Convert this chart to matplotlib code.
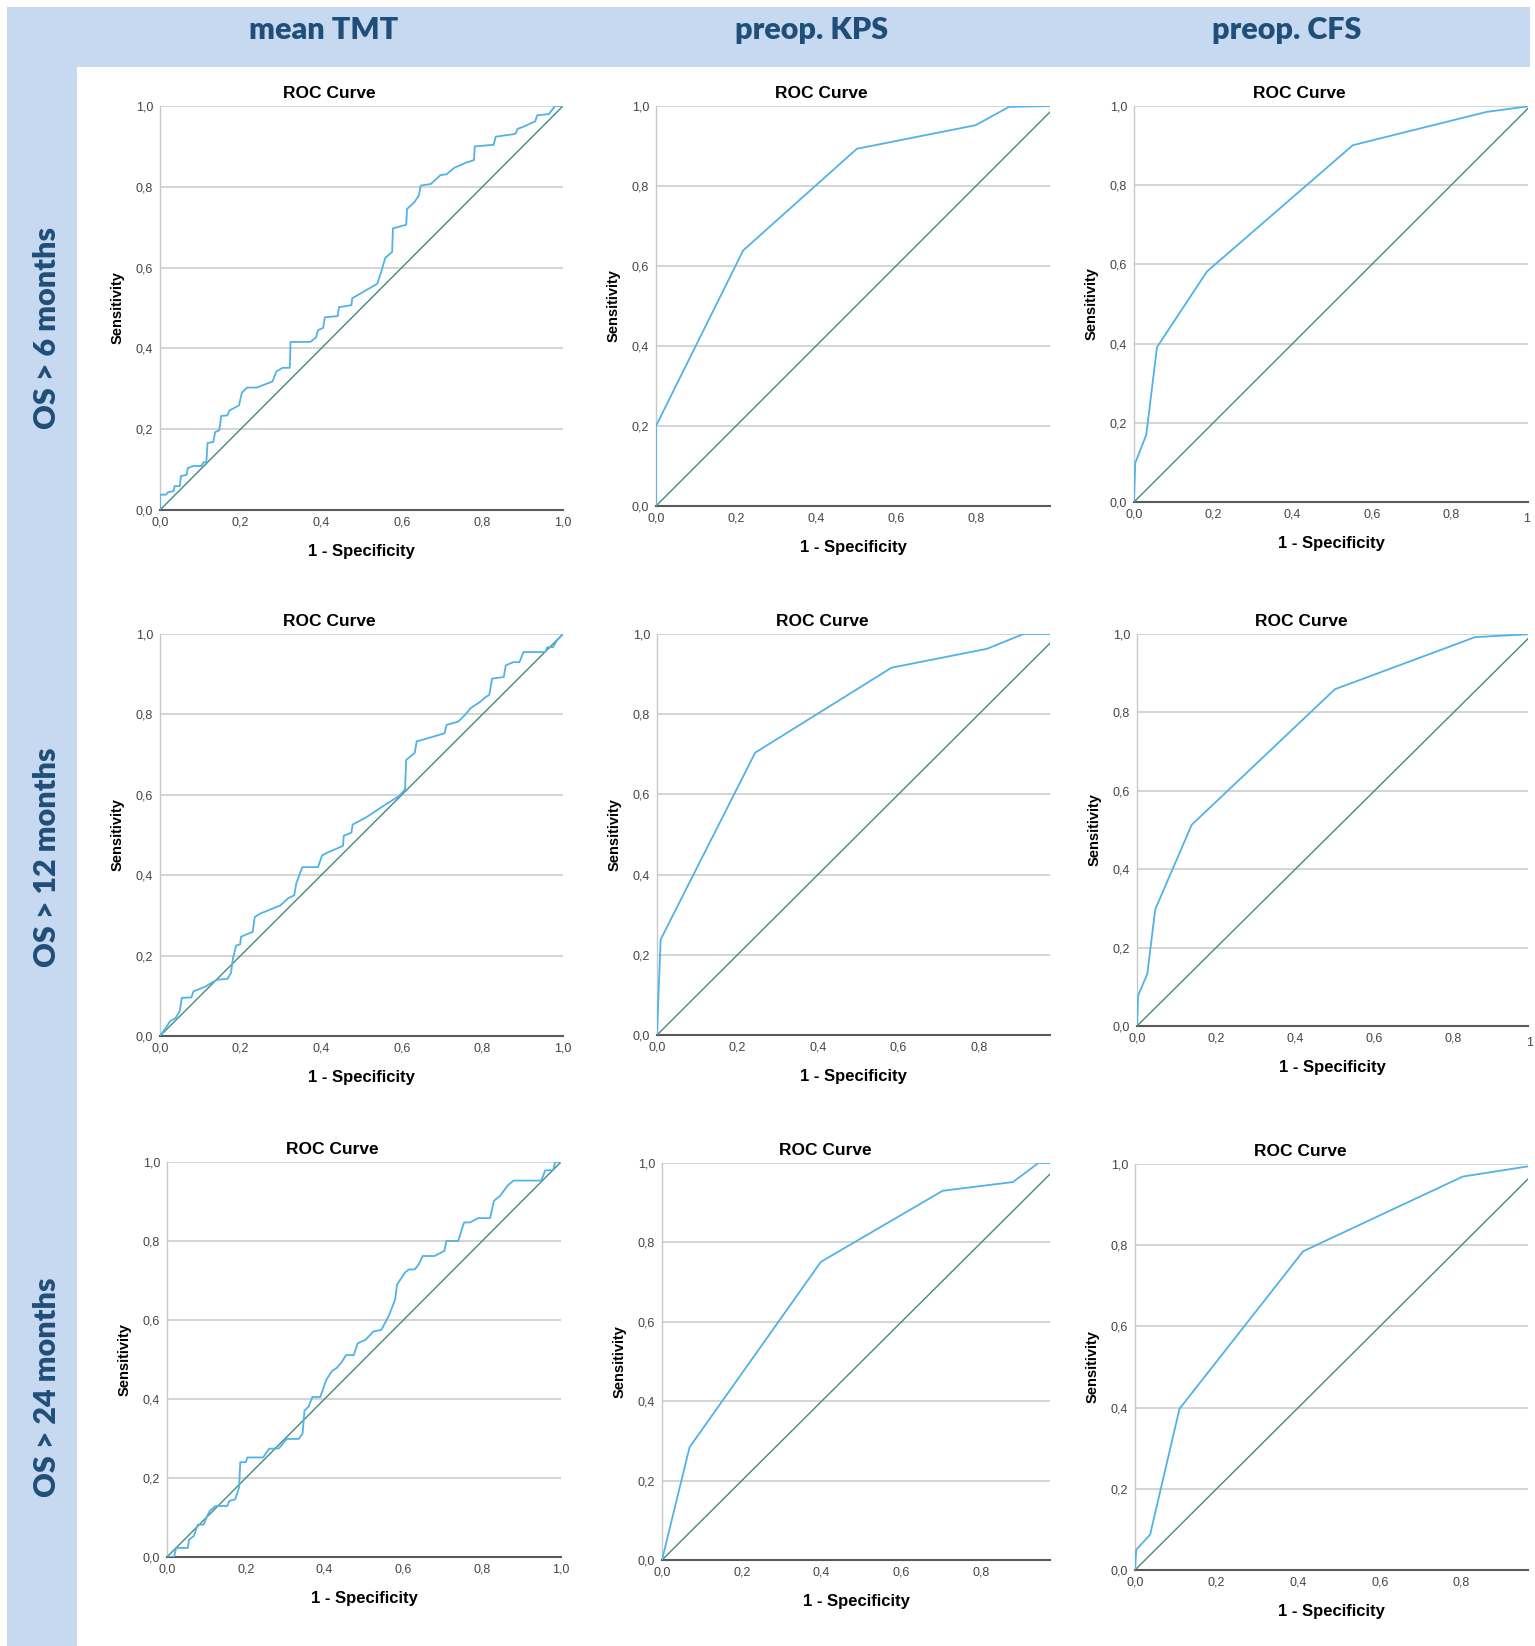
import matplotlib
matplotlib.use("Agg")
import matplotlib.pyplot as plt
import matplotlib.font_manager as fm
from matplotlib.patches import Rectangle

# column / row headers
col_titles = ["mean TMT", "preop. KPS", "preop. CFS"]
row_titles = ["OS > 6 months", "OS > 12 months", "OS > 24 months"]

# ROC curves (1 - specificity, sensitivity)
tmt_os6_x = [0, 0, 0.015, 0.020, 0.034, 0.036, 0.049, 0.052, 0.066, 0.069, 0.083, 0.103, 0.108, 0.115,
             0.118, 0.132, 0.137, 0.147, 0.152, 0.167, 0.172, 0.196, 0.203, 0.216, 0.240, 0.279, 0.289,
             0.304, 0.322, 0.324, 0.373, 0.387, 0.392, 0.405, 0.409, 0.441, 0.444, 0.475, 0.477, 0.539,
             0.549, 0.559, 0.576, 0.578, 0.611, 0.613, 0.632, 0.642, 0.647, 0.672, 0.696, 0.711, 0.730,
             0.760, 0.779, 0.781, 0.828, 0.833, 0.882, 0.887, 0.907, 0.931, 0.936, 0.965, 0.971, 0.975,
             0.980, 1.0]
tmt_os6_y = [0, 0.038, 0.038, 0.044, 0.047, 0.059, 0.059, 0.084, 0.087, 0.104, 0.109, 0.109, 0.118, 0.118,
             0.166, 0.168, 0.193, 0.197, 0.233, 0.234, 0.246, 0.259, 0.290, 0.303, 0.303, 0.318, 0.343,
             0.352, 0.352, 0.416, 0.416, 0.427, 0.445, 0.451, 0.477, 0.480, 0.502, 0.507, 0.524, 0.560,
             0.590, 0.624, 0.639, 0.697, 0.706, 0.745, 0.763, 0.778, 0.803, 0.807, 0.829, 0.831, 0.847,
             0.860, 0.866, 0.900, 0.904, 0.924, 0.931, 0.943, 0.951, 0.962, 0.977, 0.980, 0.988, 0.993,
             1.0, 1.0]

tmt_os12_x = [0, 0.015, 0.025, 0.039, 0.049, 0.054, 0.078, 0.083, 0.103, 0.113, 0.127, 0.142, 0.167,
              0.176, 0.181, 0.189, 0.199, 0.201, 0.230, 0.235, 0.250, 0.299, 0.317, 0.333, 0.338, 0.353,
              0.392, 0.402, 0.417, 0.436, 0.454, 0.456, 0.475, 0.478, 0.510, 0.554, 0.593, 0.608, 0.611,
              0.632, 0.637, 0.652, 0.686, 0.706, 0.711, 0.740, 0.760, 0.770, 0.794, 0.809, 0.817, 0.824,
              0.853, 0.858, 0.877, 0.892, 0.902, 0.956, 0.961, 0.975, 0.985, 1.0]
tmt_os12_y = [0, 0.021, 0.037, 0.045, 0.062, 0.095, 0.096, 0.111, 0.119, 0.123, 0.132, 0.140, 0.142,
              0.156, 0.193, 0.225, 0.228, 0.247, 0.259, 0.296, 0.305, 0.325, 0.342, 0.350, 0.379, 0.420,
              0.420, 0.449, 0.457, 0.465, 0.473, 0.498, 0.506, 0.526, 0.543, 0.572, 0.597, 0.613, 0.687,
              0.704, 0.733, 0.737, 0.747, 0.753, 0.774, 0.782, 0.802, 0.815, 0.831, 0.844, 0.848, 0.889,
              0.893, 0.922, 0.930, 0.930, 0.955, 0.955, 0.967, 0.967, 0.984, 1.0]

tmt_os24_x = [0, 0.018, 0.023, 0.053, 0.056, 0.068, 0.078, 0.093, 0.098, 0.108, 0.123, 0.153, 0.158,
              0.173, 0.183, 0.186, 0.200, 0.204, 0.244, 0.259, 0.284, 0.304, 0.334, 0.344, 0.349, 0.359,
              0.369, 0.389, 0.404, 0.419, 0.431, 0.444, 0.454, 0.474, 0.484, 0.504, 0.524, 0.544, 0.564,
              0.579, 0.584, 0.604, 0.614, 0.629, 0.639, 0.649, 0.679, 0.704, 0.709, 0.739, 0.754, 0.769,
              0.790, 0.820, 0.830, 0.846, 0.865, 0.880, 0.950, 0.960, 0.980, 0.985, 1.0]
tmt_os24_y = [0, 0, 0.023, 0.023, 0.044, 0.053, 0.082, 0.082, 0.095, 0.116, 0.129, 0.129, 0.142,
              0.146, 0.176, 0.240, 0.240, 0.252, 0.252, 0.274, 0.275, 0.299, 0.299, 0.312, 0.371, 0.380,
              0.405, 0.405, 0.448, 0.471, 0.479, 0.494, 0.511, 0.511, 0.541, 0.550, 0.571, 0.575, 0.613,
              0.652, 0.690, 0.720, 0.728, 0.728, 0.741, 0.762, 0.762, 0.775, 0.800, 0.800, 0.847, 0.847,
              0.858, 0.858, 0.902, 0.915, 0.941, 0.953, 0.953, 0.979, 0.979, 1.0, 1.0]

kps_os6_x = [0, 0, 0.218, 0.502, 0.799, 0.883, 1.0]
kps_os6_y = [0, 0.200, 0.639, 0.893, 0.952, 0.998, 1.0]
kps_os12_x = [0, 0.009, 0.244, 0.583, 0.820, 0.911, 1.0]
kps_os12_y = [0, 0.238, 0.704, 0.916, 0.963, 1.0, 1.0]
kps_os24_x = [0, 0.069, 0.398, 0.703, 0.879, 0.943, 1.0]
kps_os24_y = [0, 0.284, 0.751, 0.930, 0.952, 1.0, 1.0]

cfs_os6_x = [0, 0.003, 0.031, 0.058, 0.184, 0.552, 0.889, 1.0]
cfs_os6_y = [0, 0.098, 0.170, 0.391, 0.582, 0.901, 0.985, 1.0]
cfs_os12_x = [0, 0.003, 0.026, 0.046, 0.138, 0.500, 0.854, 1.0]
cfs_os12_y = [0, 0.078, 0.133, 0.297, 0.513, 0.859, 0.992, 1.0]
cfs_os24_x = [0, 0.003, 0.037, 0.109, 0.412, 0.803, 1.0]
cfs_os24_y = [0, 0.050, 0.087, 0.397, 0.785, 0.969, 1.0]

curves = [
    [(tmt_os6_x, tmt_os6_y), (kps_os6_x, kps_os6_y), (cfs_os6_x, cfs_os6_y)],
    [(tmt_os12_x, tmt_os12_y), (kps_os12_x, kps_os12_y), (cfs_os12_x, cfs_os12_y)],
    [(tmt_os24_x, tmt_os24_y), (kps_os24_x, kps_os24_y), (cfs_os24_x, cfs_os24_y)],
]

# the screenshots of the right two columns are cropped on the right
x_right = [[1.0, 0.985, 0.994], [1.0, 0.977, 0.988], [1.0, 0.972, 0.963]]

# axes boxes in pixels: left, top, right, bottom
boxes = [
    [(160, 106, 563, 510), (656, 106, 1050, 506), (1134, 106, 1528, 502)],
    [(160, 634, 563, 1036), (657, 634, 1050, 1035), (1137, 634, 1528, 1026)],
    [(167, 1162, 561, 1557), (662, 1163, 1050, 1560), (1135, 1164, 1528, 1570)],
]

W, H = 1535, 1646
BAND = "#c6d9f0"
NAVY = "#1f4e79"
ROC_BLUE = "#52b2e8"
DIAG = "#438b7c"

names = {f.name for f in fm.fontManager.ttflist}
arial = "Liberation Sans"
narrow = "Liberation Sans Narrow" if "Liberation Sans Narrow" in names else "Liberation Sans"
head_font = "Lato" if "Lato" in names else "DejaVu Sans"


def fmt(v):
    return ("%.1f" % v).replace(".", ",")


def main():
    fig = plt.figure(figsize=(W / 100, H / 100), dpi=100)
    fig.patch.set_facecolor("white")

    # light blue header bands
    fig.add_artist(Rectangle((7 / W, 1 - 67 / H), (1530 - 7) / W, 60 / H,
                             transform=fig.transFigure, color=BAND, lw=0, zorder=0))
    fig.add_artist(Rectangle((7 / W, 0), 70 / W, 1 - 7 / H,
                             transform=fig.transFigure, color=BAND, lw=0, zorder=0))

    for cx, t in zip([324, 812, 1287], col_titles):
        fig.text(cx / W, 1 - 30 / H, t, ha="center", va="center", fontsize=22,
                 fontweight="heavy", color=NAVY, family=head_font)
    for cy, t in zip([328, 857, 1387], row_titles):
        fig.text(47 / W, 1 - cy / H, t, ha="center", va="center", rotation=90,
                 fontsize=22, fontweight="heavy", color=NAVY, family=head_font)

    for r in range(3):
        for c in range(3):
            l, t, rr, b = boxes[r][c]
            ax = fig.add_axes([l / W, 1 - b / H, (rr - l) / W, (b - t) / H])
            fam = arial if c == 0 else narrow
            xr = x_right[r][c]
            xs, ys = curves[r][c]

            ax.plot([0, 1], [0, 1], color=DIAG, lw=1.0, zorder=3)
            ax.plot(xs, ys, color=ROC_BLUE, lw=1.3, zorder=4)

            ax.set_xlim(0, xr)
            ax.set_ylim(0, 1)
            ticks = [0, 0.2, 0.4, 0.6, 0.8, 1.0]
            xt = [v for v in ticks if v <= xr + 1e-9]
            ax.set_xticks(xt)
            ax.set_xticklabels([fmt(v) for v in xt])
            ax.set_yticks(ticks)
            ax.set_yticklabels([fmt(v) for v in ticks])
            for lab in ax.get_xticklabels() + ax.get_yticklabels():
                lab.set_family(fam)
                lab.set_fontsize(9)
                lab.set_color("#444444")
            ax.tick_params(length=0)
            ax.tick_params(axis="x", pad=5)
            ax.tick_params(axis="y", pad=5)

            ax.grid(axis="y", color="#d4d4d4", lw=1.4, zorder=1)
            ax.grid(axis="x", visible=False)
            ax.set_axisbelow(True)
            for s in ["top", "right"]:
                ax.spines[s].set_visible(False)
            ax.spines["left"].set_color("#c8c8c8")
            ax.spines["left"].set_linewidth(1.0)
            ax.spines["bottom"].set_color("#5a5a5a")
            ax.spines["bottom"].set_linewidth(1.5)

            # SPSS centres the title over the whole chart, incl. the y label
            ax.set_title("ROC Curve", fontsize=12.5, fontweight="bold", family=fam, pad=6, x=0.42)
            ax.set_xlabel("1 - Specificity", fontsize=12, fontweight="bold", family=fam, labelpad=11)
            ax.set_ylabel("Sensitivity", fontsize=10.5, fontweight="bold", family=fam, labelpad=8)

            # cut-off "1,0" label at the cropped right edge
            if c == 2 and r < 2:
                ax.text(1.0, -0.027, "1", transform=ax.transData, ha="right", va="top",
                        fontsize=9, color="#444444", family=fam, clip_on=False)

    fig.savefig("out.png", dpi=100, facecolor="white")


if __name__ == "__main__":
    main()
